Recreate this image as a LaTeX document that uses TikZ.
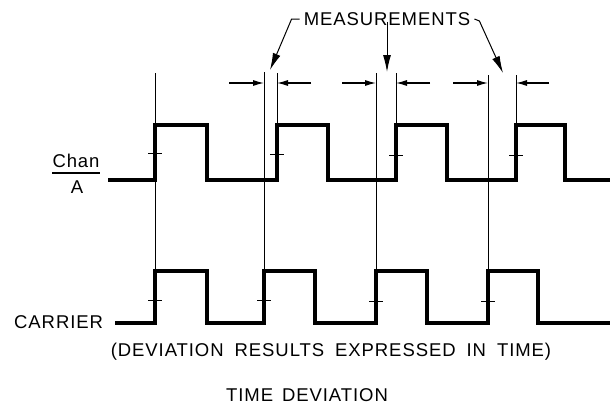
\documentclass[tikz,border=0pt]{standalone}
\usepackage{fontspec}
\newfontfamily\lettering{Liberation Sans}[LetterSpace=5]
\usepackage{tikz}
\usetikzlibrary{arrows.meta,positioning,calc}
\definecolor{plotink}{HTML}{000000}

\begin{document}
\begin{tikzpicture}[x=1pt,y=-1pt,
  every node/.style={font=\lettering\fontsize{18.5}{20}\selectfont,inner sep=0pt,text=plotink},
  wave/.style={line width=3.2pt,line join=miter,draw=plotink},
  refline/.style={line width=0.8pt,draw=plotink},
  tickmark/.style={line width=1pt,draw=plotink},
  dimarrow/.style={line width=1.1pt,draw=plotink,-{Latex[length=11pt,width=6pt]}},
  leader/.style={line width=1pt,draw=plotink,-{Latex[length=17pt,width=8pt]}}]
  \useasboundingbox (0,0) rectangle (610,410);

  % labels
  \node (chan) at (76,161) {Chan};
  \draw[line width=1.1pt] ($(chan.south west)+(0,5)$) -- ($(chan.south east)+(0,5)$);
  \node (chanA) at (77,187) {A};
  \node[anchor=west] (carrier) at (14,322) {CARRIER};
  \node (meas) at (387,19) {MEASUREMENTS};
  \node (result) at (331,352) {\spaceskip=11pt (DEVIATION RESULTS EXPRESSED IN TIME)};
  \node (title) at (307,395) {\spaceskip=9pt TIME DEVIATION};

  % channel A and carrier
  \draw[wave] (108,180) -- (155,180) -- (155,125) -- (207,125) -- (207,180) -- (277,180) -- (277,125)
    -- (328,125) -- (328,180) -- (396,180) -- (396,125) -- (447,125) -- (447,180) -- (516,180)
    -- (516,125) -- (565,125) -- (565,180) -- (610,180);
  \draw[wave] ([xshift=12pt]carrier.east |- 0,323) -- (155,323) -- (155,271) -- (207,271) -- (207,323)
    -- (264,323) -- (264,271) -- (315,271) -- (315,323) -- (376,323) -- (376,271) -- (427,271)
    -- (427,323) -- (488,323) -- (488,271) -- (538,271) -- (538,323) -- (610,323);

  % edge ticks
  \draw[tickmark] (148,153) -- (162,153);
  \draw[tickmark] (270,154) -- (284,154);
  \draw[tickmark] (389,155) -- (403,155);
  \draw[tickmark] (509,155) -- (523,155);
  \draw[tickmark] (148,300) -- (162,300);
  \draw[tickmark] (257,300) -- (271,300);
  \draw[tickmark] (369,301) -- (383,301);
  \draw[tickmark] (481,301) -- (495,301);

  % reference lines
  \coordinate (c0) at (155,73);
  \coordinate (c1) at (264,72);
  \coordinate (a1) at (277,73);
  \coordinate (c2) at (376,73);
  \coordinate (a2) at (396,73);
  \coordinate (c3) at (488,75);
  \coordinate (a3) at (516,75);
  \draw[refline] (c0) -- (155,271);
  \draw[refline] (c1) -- (264,271);
  \draw[refline] (a1) -- (277,125);
  \draw[refline] (c2) -- (376,271);
  \draw[refline] (a2) -- (396,125);
  \draw[refline] (c3) -- (488,271);
  \draw[refline] (a3) -- (516,125);

  % dimension arrows
  \coordinate (p1) at (229,83);
  \coordinate (q1) at (311,83);
  \coordinate (p2) at (342,83);
  \coordinate (q2) at (430,83);
  \coordinate (p3) at (453,83);
  \coordinate (q3) at (549,83);
  \draw[dimarrow] (p1) -- (c1 |- p1);
  \draw[dimarrow] (q1) -- (a1 |- q1);
  \draw[dimarrow] (p2) -- (c2 |- p2);
  \draw[dimarrow] (q2) -- (a2 |- q2);
  \draw[dimarrow] (p3) -- (c3 |- p3);
  \draw[dimarrow] (q3) -- (a3 |- q3);

  % leaders from the label
  \coordinate (m1) at (270,70);
  \coordinate (m2) at (387,72);
  \coordinate (m3) at (503,73);
  \draw[leader] ([xshift=-4pt]meas.west) -- ++(-8,0) -- (m1);
  \draw[leader] ([yshift=4pt]meas.south) -- (m2);
  \draw[leader] ([xshift=4pt]meas.east) -- ++(5,2) -- (m3);
\end{tikzpicture}
\end{document}
